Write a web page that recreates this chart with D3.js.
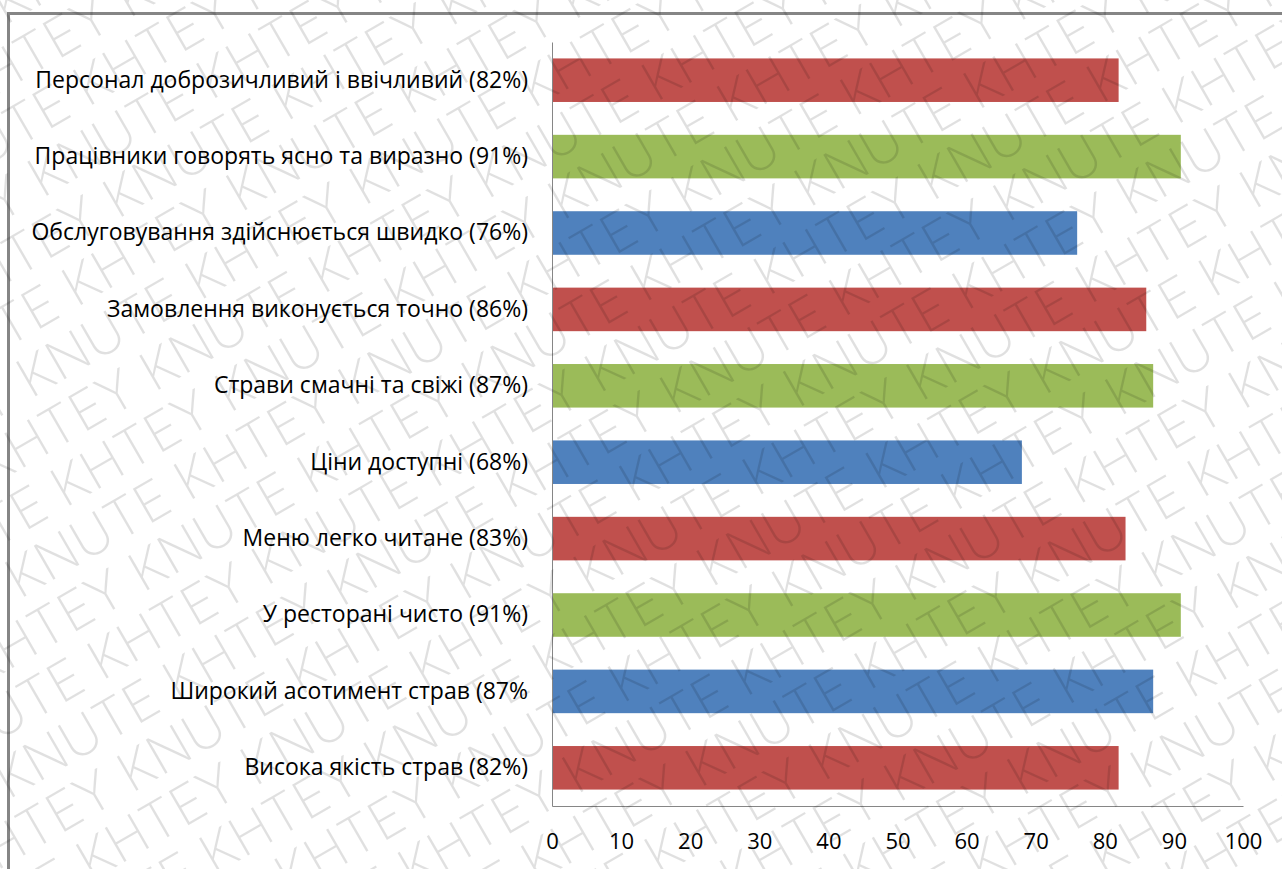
<!DOCTYPE html>
<html>
<head>
<meta charset="utf-8">
<script src="https://cdn.jsdelivr.net/npm/d3@7"></script>
<style>
  html, body { margin: 0; padding: 0; background: #fff; }
  svg { display: block; }
</style>
</head>
<body>
<svg id="chart" width="1282" height="869"></svg>
<script>
// ---- data ----
const categories = [
  "Персонал доброзичливий і ввічливий (82%)",
  "Працівники говорять ясно та виразно (91%)",
  "Обслуговування здійснюється швидко (76%)",
  "Замовлення виконується точно (86%)",
  "Страви смачні та свіжі (87%)",
  "Ціни доступні (68%)",
  "Меню легко читане (83%)",
  "У ресторані чисто (91%)",
  "Широкий асотимент страв (87%",
  "Висока якість страв (82%)"
];
const values = [82, 91, 76, 86, 87, 68, 83, 91, 87, 82];
const barColors = ["#C0504D", "#9BBB59", "#4F81BD"];
const xTicks = [0, 10, 20, 30, 40, 50, 60, 70, 80, 90, 100];
const watermarkWords = ["KNUTE", "KHTEY"];

// ---- layout ----
const W = 1282, H = 869;
const plot = { left: 552, right: 1243, top: 42, bottom: 806 };
const svg = d3.select("#chart");

// frame
svg.append("rect")
  .attr("x", 8.5).attr("y", 13.5)
  .attr("width", W + 20).attr("height", H + 20)
  .attr("fill", "#fff")
  .attr("stroke", "#858585").attr("stroke-width", 3);

const x = d3.scaleLinear().domain([0, 100]).range([plot.left, plot.right]);
const y = d3.scaleBand().domain(categories).range([plot.top, plot.bottom])
  .paddingInner(0.43).paddingOuter(0.215);

// bars
svg.append("g").selectAll("rect")
  .data(categories)
  .join("rect")
  .attr("x", x(0))
  .attr("y", d => y(d))
  .attr("width", (d, i) => x(values[i]) - x(0))
  .attr("height", y.bandwidth())
  .attr("fill", (d, i) => barColors[i % 3]);

// x axis
const xAxis = svg.append("g")
  .attr("transform", `translate(0,${plot.bottom})`)
  .call(d3.axisBottom(x).tickValues(xTicks).tickSize(0).tickPadding(0).tickFormat(d3.format("d")));
xAxis.select(".domain").attr("stroke", "#868686").attr("stroke-width", 1);
xAxis.selectAll("text")
  .attr("y", 43)
  .attr("dy", null)
  .attr("fill", "#000")
  .style("font-family", "'Open Sans', 'Noto Sans', sans-serif")
  .style("font-size", "22px");

// y axis
const yAxis = svg.append("g")
  .attr("transform", `translate(${plot.left},0)`)
  .call(d3.axisLeft(y).tickSize(0).tickPadding(24));
yAxis.select(".domain").attr("stroke", "#868686").attr("stroke-width", 1);
yAxis.selectAll("text")
  .attr("fill", "#000")
  .style("font-family", "'Open Sans', 'Noto Sans', sans-serif")
  .style("font-size", "23px");

// watermark overlay
const wm = svg.append("g")
  .attr("pointer-events", "none")
  .attr("transform", `translate(${W / 2},${H / 2}) rotate(-30)`);
const rowGap = 56;
const rows = d3.range(-16, 17);
const line = d3.range(14).map(i => watermarkWords[i % 2]).join(" ");
wm.selectAll("text")
  .data(rows)
  .join("text")
  .attr("x", d => -1500 + ((d * 110) % 440 + 440) % 440)
  .attr("y", d => d * rowGap)
  .attr("fill", "#000")
  .attr("fill-opacity", 0.12)
  .style("font-family", "Inter, 'Open Sans', sans-serif")
  .style("font-weight", 200)
  .style("font-size", "54px")
  .text(line);
</script>
</body>
</html>
